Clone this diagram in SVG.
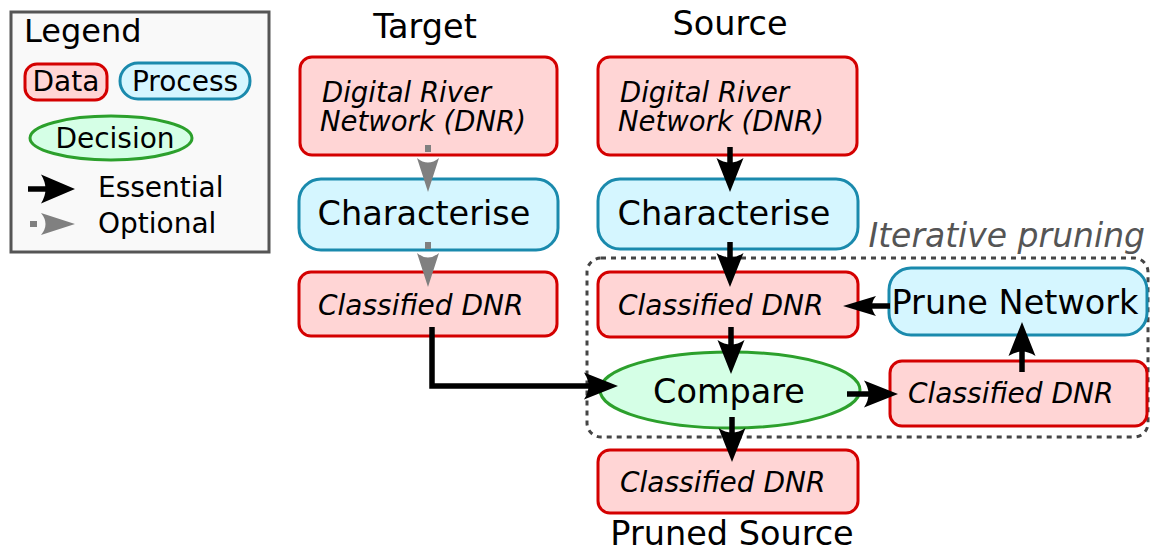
<svg xmlns="http://www.w3.org/2000/svg" width="1152" height="551" viewBox="0 0 1152 551">
<defs>
<style>
text{font-family:"DejaVu Sans","Liberation Sans",sans-serif;fill:#000}
.it{font-style:italic}
.big{font-size:33.5px}
.sm{font-size:28px}
.dn{font-size:27.5px;font-style:italic}
.data{fill:#ffd5d5;stroke:#d40000;stroke-width:3}
.proc{fill:#d5f6ff;stroke:#1a8aad;stroke-width:3}
.dec{fill:#d5ffe6;stroke:#2ca02c;stroke-width:3}
.ess{fill:none;stroke:#000;stroke-width:5.5}
.opt{fill:none;stroke:#808080;stroke-width:6;stroke-dasharray:7,100}
</style>
<marker id="ah" markerUnits="userSpaceOnUse" markerWidth="40" markerHeight="40" viewBox="-2 -20 40 40" refX="22" refY="0" orient="auto" overflow="visible">
<path d="M34,0 L0,-13.5 Q9,0 0,13.5 Z" fill="#000"/>
</marker>
<marker id="ahs" markerUnits="userSpaceOnUse" markerWidth="40" markerHeight="40" viewBox="-2 -20 40 40" refX="22" refY="0" orient="auto" overflow="visible">
<path d="M33,0 L0,-10 Q8,0 0,10 Z" fill="#000"/>
</marker>
<marker id="ahl" markerUnits="userSpaceOnUse" markerWidth="40" markerHeight="40" viewBox="-2 -20 40 40" refX="22" refY="0" orient="auto" overflow="visible">
<path d="M34,0 L0,-14.5 Q9,0 0,14.5 Z" fill="#000"/>
</marker>
<marker id="ahg" markerUnits="userSpaceOnUse" markerWidth="40" markerHeight="40" viewBox="-2 -20 40 40" refX="22" refY="0" orient="auto" overflow="visible">
<path d="M34,0 L0,-11 Q9,0 0,11 Z" fill="#808080"/>
</marker>
</defs>
<rect width="1152" height="551" fill="#fff"/>

<g id="legend">
<rect x="11" y="12" width="258" height="240" fill="#f9f9f9" stroke="#555" stroke-width="3"/>
<text x="24" y="42" font-size="32">Legend</text>
<rect class="data" x="25" y="64" width="82" height="36" rx="12"/>
<text x="66" y="91" class="sm" text-anchor="middle">Data</text>
<rect class="proc" x="120" y="63" width="130" height="36" rx="18"/>
<text x="185" y="91" class="sm" text-anchor="middle">Process</text>
<ellipse class="dec" cx="111" cy="138" rx="81" ry="22"/>
<text x="115" y="148" class="sm" text-anchor="middle">Decision</text>
<line class="ess" x1="28" y1="189" x2="63" y2="189" marker-end="url(#ahl)"/>
<text x="98" y="197" class="sm">Essential</text>
<line class="opt" x1="30" y1="224" x2="63" y2="224" marker-end="url(#ahg)"/>
<text x="98" y="233" class="sm">Optional</text>
</g>

<text x="425" y="38" class="big" text-anchor="middle">Target</text>
<text x="730" y="35" class="big" text-anchor="middle">Source</text>
<text x="732" y="545" class="big" text-anchor="middle">Pruned Source</text>

<g id="iterative-pruning">
<rect x="587" y="258" width="561" height="179" rx="14" fill="none" stroke="#444" stroke-width="3" stroke-dasharray="5,5"/>
<text x="1145" y="247" font-size="33" class="it" text-anchor="end" style="fill:#555">Iterative pruning</text>
</g>

<g id="t-dnr">
<rect class="data" x="300" y="57" width="257" height="98" rx="12"/>
<text x="322" y="102" class="dn">Digital River</text>
<text x="320" y="131" class="dn">Network (DNR)</text>
</g>
<g id="t-char">
<rect class="proc" x="299" y="179" width="259" height="71" rx="22"/>
<text x="424" y="225" class="big" text-anchor="middle">Characterise</text>
</g>
<g id="t-class">
<rect class="data" x="299" y="272" width="258" height="64" rx="12"/>
<text x="318" y="315" class="sm it">Classified DNR</text>
</g>

<g id="s-dnr">
<rect class="data" x="598" y="57" width="259" height="98" rx="12"/>
<text x="620" y="102" class="dn">Digital River</text>
<text x="618" y="131" class="dn">Network (DNR)</text>
</g>
<g id="s-char">
<rect class="proc" x="598" y="179" width="260" height="70" rx="22"/>
<text x="724" y="225" class="big" text-anchor="middle">Characterise</text>
</g>
<g id="s-class">
<rect class="data" x="598" y="272" width="260" height="65" rx="12"/>
<text x="618" y="315" class="sm it">Classified DNR</text>
</g>
<g id="prune">
<rect class="proc" x="889" y="268" width="258" height="67" rx="22"/>
<text x="1015" y="314" class="big" text-anchor="middle">Prune Network</text>
</g>
<g id="compare">
<ellipse class="dec" cx="730" cy="390" rx="130" ry="38"/>
<text x="729" y="403" class="big" text-anchor="middle">Compare</text>
</g>
<g id="r-class">
<rect class="data" x="890" y="361" width="257" height="65" rx="12"/>
<text x="908" y="403" class="sm it">Classified DNR</text>
</g>
<g id="b-class">
<rect class="data" x="598" y="450" width="260" height="63" rx="12"/>
<text x="620" y="492" class="sm it">Classified DNR</text>
</g>

<g id="connectors">
<line class="opt" x1="428" y1="145" x2="428" y2="180" marker-end="url(#ahg)"/>
<line class="opt" x1="428" y1="242" x2="428" y2="275" marker-end="url(#ahg)"/>
<line class="ess" x1="730" y1="147" x2="730" y2="180" marker-end="url(#ah)"/>
<line class="ess" x1="730" y1="242" x2="730" y2="275" marker-end="url(#ah)"/>
<line class="ess" x1="731" y1="327" x2="731" y2="362" marker-end="url(#ah)"/>
<line class="ess" x1="732" y1="417" x2="732" y2="450" marker-end="url(#ah)"/>
<polyline class="ess" points="432,327 432,386 606,386" marker-end="url(#ah)"/>
<line class="ess" x1="847" y1="394" x2="886" y2="394" marker-end="url(#ah)"/>
<line class="ess" x1="1022" y1="372" x2="1022" y2="334" marker-end="url(#ah)"/>
<line class="ess" x1="890" y1="306" x2="854" y2="306" marker-end="url(#ahs)"/>
</g>
</svg>
